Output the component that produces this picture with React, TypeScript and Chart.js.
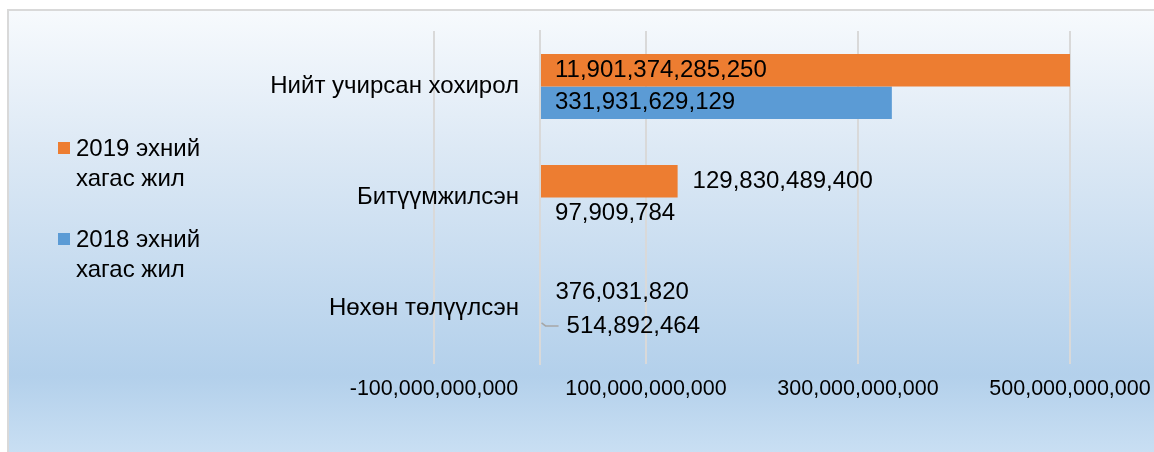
import React, { useEffect, useRef } from 'react';
import { Chart, registerables } from 'chart.js';

Chart.register(...registerables);

const categories = ['Нийт учирсан хохирол', 'Битүүмжилсэн', 'Нөхөн төлүүлсэн'];
const seriesNames = ['2019 эхний хагас жил', '2018 эхний хагас жил'];
const values2019 = [11901374285250, 129830489400, 376031820];
const values2018 = [331931629129, 97909784, 514892464];
const axisMin = -100000000000;
const axisMax = 500000000000;
const axisStep = 200000000000;
const seriesColors = ['#ED7D31', '#5B9BD5'];

const FONT = '"Liberation Sans", Arial, sans-serif';
const fmt = (v: number) => Number(v).toLocaleString('en-US');

// manually moved data label (with leader line), as in the original
const labelNudges = [{ dataset: 1, index: 2, dx: 11, dy: 1.5 }];

const valueLabelPlugin = {
  id: 'valueLabels',
  afterDatasetsDraw(chart: any) {
    const { ctx, chartArea } = chart;
    ctx.save();
    ctx.font = `24px ${FONT}`;
    ctx.fillStyle = '#000';
    ctx.textBaseline = 'middle';
    ctx.textAlign = 'left';
    chart.data.datasets.forEach((ds: any, di: number) => {
      const meta = chart.getDatasetMeta(di);
      meta.data.forEach((bar: any, i: number) => {
        const text = fmt(ds.data[i]);
        const w = ctx.measureText(text).width;
        const base = bar.base;
        const end = Math.min(bar.x, chartArea.right);
        let x = end - base > w + 30 ? base + 15 : end + 15;
        let y = bar.y;
        const n = labelNudges.find((q) => q.dataset === di && q.index === i);
        if (n) {
          x += n.dx;
          y += n.dy;
          ctx.strokeStyle = '#a6a6a6';
          ctx.lineWidth = 1.5;
          ctx.beginPath();
          ctx.moveTo(end + 1, bar.y - 2);
          ctx.lineTo(end + 5, bar.y + 1);
          ctx.lineTo(x - 8, bar.y + 1);
          ctx.stroke();
        }
        ctx.fillText(text, x, y);
      });
    });
    ctx.restore();
  },
};

// category labels, placed left of the vertical axis (which crosses at 0)
const categoryLabelPlugin = {
  id: 'categoryLabels',
  afterDraw(chart: any) {
    const { ctx } = chart;
    const xs = chart.scales.x;
    const ys = chart.scales.y;
    const xAxis = xs.getPixelForValue(0);
    ctx.save();
    ctx.font = `24px ${FONT}`;
    ctx.fillStyle = '#000';
    ctx.textBaseline = 'middle';
    ctx.textAlign = 'right';
    (chart.data.labels as string[]).forEach((lab, i) => {
      ctx.fillText(lab, xAxis - 21, ys.getPixelForTick(i));
    });
    ctx.restore();
  },
};

const legendPlugin = {
  id: 'sideLegend',
  afterDraw(chart: any) {
    const { ctx } = chart;
    ctx.save();
    ctx.font = `24px ${FONT}`;
    ctx.textBaseline = 'middle';
    ctx.textAlign = 'left';
    chart.data.datasets.forEach((ds: any, di: number) => {
      const top = 142 + di * 91;
      ctx.fillStyle = ds.backgroundColor;
      ctx.fillRect(58, top, 12, 12);
      const words = String(ds.label).split(' ');
      const lines: string[] = [];
      let cur = '';
      words.forEach((wd) => {
        const t = cur ? cur + ' ' + wd : wd;
        if (ctx.measureText(t).width > 140 && cur) {
          lines.push(cur);
          cur = wd;
        } else cur = t;
      });
      if (cur) lines.push(cur);
      ctx.fillStyle = '#000';
      lines.forEach((ln, li) => ctx.fillText(ln, 76, top + 7 + li * 30));
    });
    ctx.restore();
  },
};

const zeroPad = (s: any) => {
  s.paddingLeft = 0;
  s.paddingRight = 0;
  s.paddingTop = 0;
  s.paddingBottom = 0;
};

export default function App() {
  const ref = useRef<HTMLCanvasElement | null>(null);
  useEffect(() => {
    if (!ref.current) return;
    const chart = new Chart(ref.current, {
      type: 'bar',
      data: {
        labels: categories,
        datasets: [
          { label: seriesNames[0], data: values2019, backgroundColor: seriesColors[0], barPercentage: 1, categoryPercentage: 0.586, inflateAmount: 0 },
          { label: seriesNames[1], data: values2018, backgroundColor: seriesColors[1], barPercentage: 1, categoryPercentage: 0.586, inflateAmount: 0 },
        ],
      },
      options: {
        indexAxis: 'y',
        animation: false,
        responsive: false,
        devicePixelRatio: 1,
        layout: { padding: { left: 434, right: 84, top: 31, bottom: 38 } },
        plugins: { legend: { display: false }, tooltip: { enabled: false } },
        scales: {
          x: {
            type: 'linear',
            min: axisMin,
            max: axisMax,
            ticks: {
              stepSize: axisStep,
              autoSkip: false,
              maxRotation: 0,
              padding: 12,
              color: '#000',
              font: { family: FONT, size: 21.5 },
              callback: (v: any) => fmt(v),
            },
            grid: { color: '#d9d9d9', lineWidth: 2, drawTicks: false },
            border: { display: false },
            afterFit: zeroPad,
          },
          y: {
            type: 'category',
            position: { x: 0 } as any,
            ticks: { display: false },
            grid: { display: false, drawTicks: false },
            border: { display: true, color: '#d9d9d9', width: 2, z: 1 } as any,
            afterFit: zeroPad,
          },
        },
      },
      plugins: [valueLabelPlugin, categoryLabelPlugin, legendPlugin],
    });
    return () => chart.destroy();
  }, []);
  return (
    <div style={{ position: 'fixed', left: 0, top: 0, width: 1154, height: 452, overflow: 'hidden' }}>
      <div
        style={{
          position: 'absolute',
          left: 7,
          top: 9,
          width: 1160,
          height: 460,
          boxSizing: 'border-box',
          border: '2px solid #d9d9d9',
          background: 'linear-gradient(to bottom, #f7fafd 0%, #dde9f5 30%, #b3d0eb 80%, #c9dff3 97%)',
        }}
      />
      <canvas ref={ref} width={1154} height={452} style={{ position: 'absolute', left: 0, top: 0 }} />
    </div>
  );
}
